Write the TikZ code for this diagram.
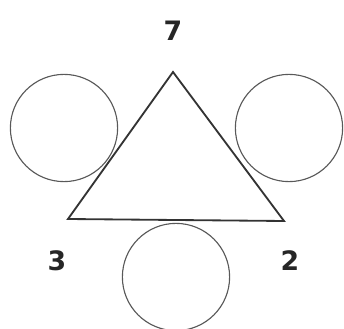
\documentclass[tikz,border=0pt]{standalone}
\usepackage{fontspec}
\setmainfont{DejaVu Sans}
\usepackage{tikz}

\begin{document}
\begin{tikzpicture}[x=0.025cm, y=-0.025cm]
    \tikzstyle{ring} = [circle, draw=black!65, line width=0.8pt, inner sep=0pt, minimum size=2.68cm]
    \tikzstyle{num} = [font=\bfseries\fontsize{19}{19}\selectfont, text=black!85]
    \tikzstyle{edge} = [draw=black!80, line width=1.3pt, line join=miter]

    \useasboundingbox (0,0) rectangle (344,329);

    \coordinate (top) at (173,72);
    \coordinate (left) at (68,219);
    \coordinate (right) at (284,221);

    \node [ring] (cleft) at (64,128) {};
    \node [ring] (cright) at (289,128) {};
    \node [ring] (cbottom) at (176,277) {};

    \draw [edge] (top) -- (right) -- (left) -- cycle;

    \node [num] (seven) at (173,31) {7};
    \node [num] (three) at (57,261) {3};
    \node [num] (two) at (290,261) {2};
\end{tikzpicture}
\end{document}
